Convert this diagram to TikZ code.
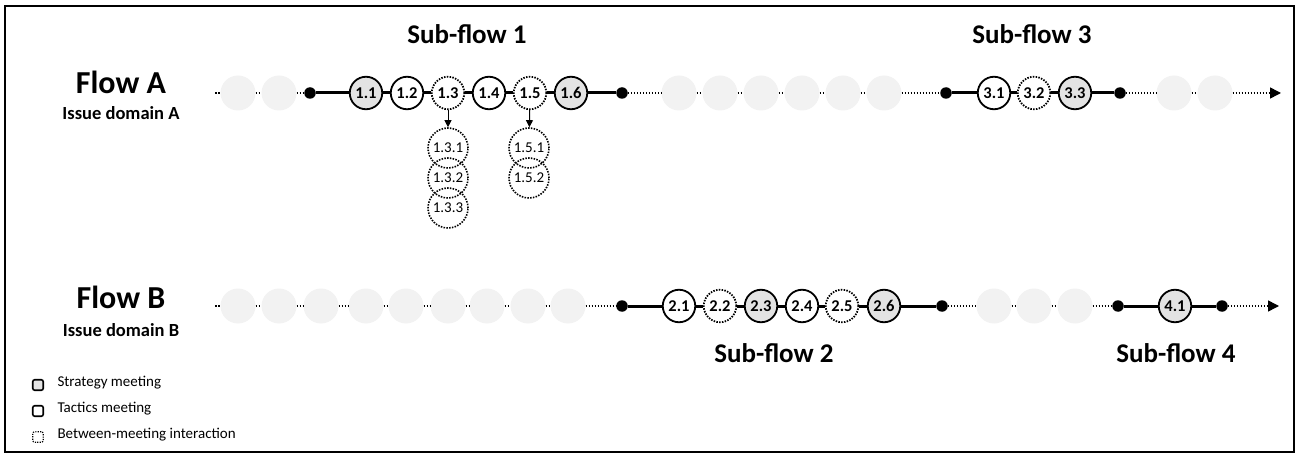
\documentclass[tikz,border=0pt]{standalone}
\usepackage{fontspec}
\setmainfont{Carlito}
\usetikzlibrary{arrows.meta}

\definecolor{ghostgray}{HTML}{F2F2F2}
\definecolor{stratgray}{HTML}{E3E3E3}

\begin{document}
\begin{tikzpicture}[x=1pt,y=-1pt,
  ghost/.style={circle, fill=ghostgray, minimum size=35pt, inner sep=0pt},
  meet/.style={circle, draw, line width=1.8pt, minimum size=32.5pt, inner sep=0pt,
               font=\fontsize{16.5}{16.5}\selectfont\bfseries},
  strat/.style={meet, fill=stratgray},
  tact/.style={meet, fill=white},
  inter/.style={meet, fill=white, dash pattern=on 1.5pt off 1.3pt},
  subint/.style={circle, draw, line width=1.6pt, dash pattern=on 1.5pt off 1.3pt,
                 minimum size=40pt, inner sep=0pt, font=\fontsize{15}{15}\selectfont},
  knot/.style={circle, fill=black, minimum size=11.5pt, inner sep=0pt},
  flowline/.style={line width=3pt},
  gapline/.style={line width=1.5pt, dash pattern=on 1.5pt off 1.5pt},
  endarrow/.style={gapline, -{Triangle[length=11pt,width=11pt]}},
  drop/.style={line width=1pt, -{Triangle[length=7pt,width=7pt]}},
  flowtitle/.style={anchor=base, font=\fontsize{32}{32}\selectfont\bfseries},
  issuelabel/.style={anchor=base, font=\fontsize{18.5}{18.5}\selectfont\bfseries},
  subtitle/.style={anchor=base, font=\fontsize{27}{27}\selectfont\bfseries},
  legtext/.style={anchor=west, font=\fontsize{15}{15}\selectfont},
  legbox/.style={rounded corners=2pt, minimum size=10.5pt, inner sep=0pt}
]
\useasboundingbox (0,0) rectangle (1301,457);
\draw[line width=1.2pt] (5,6) rectangle (1294,452);

% ---------------- Flow A ----------------
\node[flowtitle] (fa) at (121,94) {Flow A};
\node[issuelabel] (da) at (121,120) {Issue domain A};

\coordinate (a0) at (215,93);
\node[ghost] (ag1) at (238,93) {};
\node[ghost] (ag2) at (279,93) {};
\node[knot]  (ak1) at (310,93) {};
\node[strat] (m11) at (366,93) {1.1};
\node[tact]  (m12) at (407,93) {1.2};
\node[inter] (m13) at (448,93) {1.3};
\node[tact]  (m14) at (489,93) {1.4};
\node[inter] (m15) at (530,93) {1.5};
\node[strat] (m16) at (571,93) {1.6};
\node[knot]  (ak2) at (622,93) {};
\node[ghost] (ag3) at (679,93) {};
\node[ghost] (ag4) at (720,93) {};
\node[ghost] (ag5) at (761,93) {};
\node[ghost] (ag6) at (802,93) {};
\node[ghost] (ag7) at (843,93) {};
\node[ghost] (ag8) at (884,93) {};
\node[knot]  (ak3) at (946,93) {};
\node[tact]  (m31) at (994,93) {3.1};
\node[inter] (m32) at (1034,93) {3.2};
\node[strat] (m33) at (1075,93) {3.3};
\node[knot]  (ak4) at (1120,93) {};
\node[ghost] (ag9) at (1174,93) {};
\node[ghost] (ag10) at (1215,93) {};
\coordinate (aend) at (1281,93);

\draw[gapline] (a0) -- (ag1) (ag1) -- (ag2) (ag2) -- (ak1);
\draw[flowline] (ak1) -- (m11) (m11) -- (m12) (m12) -- (m13) (m13) -- (m14)
                (m14) -- (m15) (m15) -- (m16) (m16) -- (ak2);
\draw[gapline] (ak2) -- (ag3) (ag3) -- (ag4) (ag4) -- (ag5) (ag5) -- (ag6)
               (ag6) -- (ag7) (ag7) -- (ag8) (ag8) -- (ak3);
\draw[flowline] (ak3) -- (m31) (m31) -- (m32) (m32) -- (m33) (m33) -- (ak4);
\draw[gapline] (ak4) -- (ag9) (ag9) -- (ag10);
\draw[endarrow] (ag10) -- (aend);

% interactions between meetings 1.3 and 1.5
\node[subint] (m131) at (448,148) {1.3.1};
\node[subint] (m132) at (448,178) {1.3.2};
\node[subint] (m133) at (448,208) {1.3.3};
\node[subint] (m151) at (529,148) {1.5.1};
\node[subint] (m152) at (529,178) {1.5.2};
\draw[drop] (m13) -- (m131);
\draw[drop] (m15) -- (m151);

\node[subtitle] (sf1) at (467,44) {Sub-flow 1};
\node[subtitle] (sf3) at (1032,44) {Sub-flow 3};

% ---------------- Flow B ----------------
\node[flowtitle] (fb) at (121,308) {Flow B};
\node[issuelabel] (db) at (121,336) {Issue domain B};

\coordinate (b0) at (215,306);
\node[ghost] (bg1) at (238,306) {};
\node[ghost] (bg2) at (279,306) {};
\node[ghost] (bg3) at (321,306) {};
\node[ghost] (bg4) at (366,306) {};
\node[ghost] (bg5) at (406,306) {};
\node[ghost] (bg6) at (448,306) {};
\node[ghost] (bg7) at (487,306) {};
\node[ghost] (bg8) at (528,306) {};
\node[ghost] (bg9) at (568,306) {};
\node[knot]  (bk1) at (622,306) {};
\node[tact]  (m21) at (679,306) {2.1};
\node[inter] (m22) at (720,306) {2.2};
\node[strat] (m23) at (761,306) {2.3};
\node[tact]  (m24) at (802,306) {2.4};
\node[inter] (m25) at (842,306) {2.5};
\node[strat] (m26) at (884,306) {2.6};
\node[knot]  (bk2) at (942,306) {};
\node[ghost] (bg10) at (994,306) {};
\node[ghost] (bg11) at (1034,306) {};
\node[ghost] (bg12) at (1075,306) {};
\node[knot]  (bk3) at (1118,306) {};
\node[strat] (m41) at (1175,306) {4.1};
\node[knot]  (bk4) at (1222,306) {};
\coordinate (bend) at (1279,306);

\draw[gapline] (b0) -- (bg1) (bg1) -- (bg2) (bg2) -- (bg3) (bg3) -- (bg4)
               (bg4) -- (bg5) (bg5) -- (bg6) (bg6) -- (bg7) (bg7) -- (bg8)
               (bg8) -- (bg9) (bg9) -- (bk1);
\draw[flowline] (bk1) -- (m21) (m21) -- (m22) (m22) -- (m23) (m23) -- (m24)
                (m24) -- (m25) (m25) -- (m26) (m26) -- (bk2);
\draw[gapline] (bk2) -- (bg10) (bg10) -- (bg11) (bg11) -- (bg12) (bg12) -- (bk3);
\draw[flowline] (bk3) -- (m41) (m41) -- (bk4);
\draw[endarrow] (bk4) -- (bend);

\node[subtitle] (sf2) at (774,362) {Sub-flow 2};
\node[subtitle] (sf4) at (1176,362) {Sub-flow 4};

% ---------------- Legend ----------------
\node[legbox, draw, line width=1.6pt, fill=stratgray] (ls) at (38,385) {};
\node[legbox, draw, line width=1.6pt, fill=white] (lt) at (38,411) {};
\node[legbox, draw, line width=1.2pt, dash pattern=on 1.2pt off 1.2pt] (li) at (38,437) {};
\node[legtext] (lst) at (54,383) {Strategy meeting};
\node[legtext] (ltt) at (54,409) {Tactics meeting};
\node[legtext] (lit) at (54,435) {Between-meeting interaction};
\end{tikzpicture}
\end{document}
